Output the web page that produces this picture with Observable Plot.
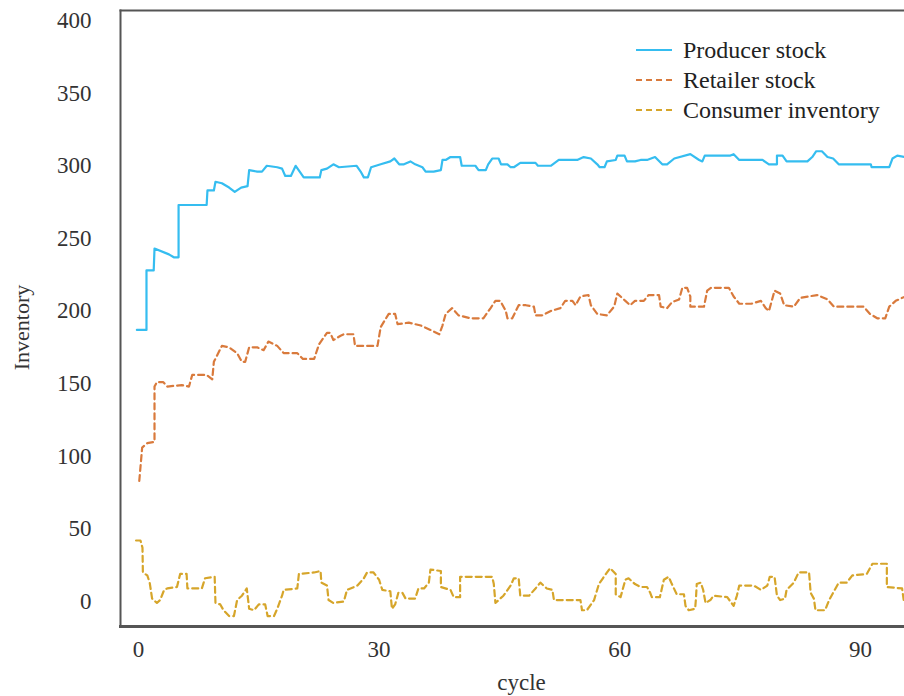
<!DOCTYPE html>
<html>
<head>
<meta charset="utf-8">
<script src="https://cdn.jsdelivr.net/npm/d3@7"></script>
<script src="https://cdn.jsdelivr.net/npm/@observablehq/plot@0.6"></script>
<style>
  html, body { margin: 0; padding: 0; background: #fff; }
  #wrap { position: relative; width: 904px; height: 696px; }
  #legend { position: absolute; left: 636px; top: 35px; font-family: "Liberation Serif", serif; font-size: 24px; color: #222; }
  #legend .row { display: flex; align-items: center; height: 30px; }
  #legend svg { margin-right: 11px; }
</style>
</head>
<body>
<div id="wrap"></div>
<script>
// Series: [cycle, inventory]
const producerStock = [[-0.2,187],[1.0,187],[1.0,228],[1.9,228],[2.0,243],[3.8,239],[4.4,237],[5.0,237],[5.0,273],[6.1,273],[8.5,273],[8.6,283],[9.4,283],[9.6,289],[10.4,288],[11.3,285],[12.0,282],[12.8,285],[13.6,286],[13.8,297],[14.8,296],[15.4,296],[16.0,300],[17.3,299],[17.9,298],[18.3,293],[19.0,293],[19.6,300],[20.1,296],[20.6,292],[22.6,292],[22.8,297],[23.5,298],[24.3,301],[25.0,299],[27.2,300],[27.7,296],[28.1,292],[28.6,292],[29.0,299],[30.2,301],[31.4,303],[31.9,305],[32.5,301],[33.1,301],[33.9,303],[34.5,301],[35.4,299],[35.8,296],[36.8,296],[37.7,297],[37.9,304],[38.3,304],[38.9,306],[40.1,306],[40.3,300],[42.0,300],[42.4,297],[43.3,297],[43.6,301],[44.1,305],[44.9,305],[45.2,301],[46.0,301],[46.4,299],[46.8,299],[47.6,302],[49.5,302],[49.8,300],[51.4,300],[52.4,304],[54.7,304],[55.5,306],[56.4,305],[57.2,301],[57.5,299],[58.1,299],[58.4,303],[59.5,304],[59.7,307],[60.6,307],[60.9,303],[61.9,303],[62.6,304],[63.4,304],[64.4,306],[65.3,301],[65.9,301],[66.8,305],[68.8,308],[69.9,304],[70.3,303],[70.6,307],[73.8,307],[74.2,308],[74.9,304],[77.8,304],[78.6,301],[79.6,301],[79.6,307],[80.3,307],[80.8,303],[83.4,303],[84.0,306],[84.5,310],[85.2,310],[85.9,306],[86.6,305],[87.3,301],[91.3,301],[91.4,299],[93.6,299],[94.0,305],[94.6,307],[95.6,306]];

const retailerStock = [[0.1,83],[0.46,106],[1.1,109],[2.0,110],[2.0,148],[2.3,151],[3.1,151],[3.6,148],[5.4,149],[6.3,148],[6.7,156],[8.5,156],[9.2,153],[9.4,165],[10.4,176],[11.3,175],[12.3,171],[12.9,165],[13.3,165],[13.8,175],[14.8,175],[15.6,173],[16.2,179],[17.3,176],[18.1,171],[19.8,171],[20.5,167],[21.9,167],[22.5,177],[23.5,185],[23.9,185],[24.3,180],[25.2,183],[25.6,184],[26.8,184],[27.0,176],[29.8,176],[30.2,189],[31.2,198],[32.0,198],[32.3,191],[33.7,192],[35.2,190],[36.4,187],[37.5,184],[37.9,190],[38.3,198],[39.1,202],[39.9,197],[41.4,195],[43.0,195],[43.9,202],[44.5,207],[45.1,207],[45.8,200],[46.0,195],[46.6,195],[47.4,204],[48.3,204],[49.3,203],[49.5,197],[50.3,197],[51.4,200],[52.6,202],[53.2,207],[54.1,207],[54.5,204],[55.1,210],[56.1,211],[56.4,204],[57.2,198],[58.4,197],[59.3,203],[59.7,212],[60.7,207],[61.3,204],[61.9,207],[63.0,207],[63.6,211],[64.9,211],[65.1,203],[65.9,202],[66.5,206],[67.4,208],[67.8,216],[68.4,216],[68.8,210],[68.8,203],[70.5,203],[70.9,214],[71.4,216],[73.6,216],[74.2,210],[74.9,205],[76.4,205],[77.6,207],[78.2,202],[78.6,200],[79.3,214],[80.0,212],[80.5,204],[81.7,203],[82.5,209],[84.6,211],[85.9,208],[86.7,203],[90.4,203],[91.2,198],[92.1,195],[93.1,195],[93.6,203],[94.4,207],[95.6,210]];

const consumerInventory = [[-0.3,42],[0.25,42],[0.5,37],[0.55,20],[1.1,18],[1.4,13],[1.7,2],[2.3,-1],[2.7,1],[3.2,8],[3.6,9],[4.8,10],[5.2,19],[6.0,19],[6.1,9],[7.9,9],[8.3,16],[9.5,17],[9.6,-1],[10.2,-2],[10.6,-6],[11.3,-10],[11.9,-10],[12.3,1],[12.9,4],[13.5,9],[13.8,-5],[14.4,-6],[15.0,-2],[15.8,-2],[16.1,-10],[16.9,-10],[17.3,-5],[17.9,4],[18.1,8],[19.8,9],[20.0,19],[21.9,20],[22.7,21],[22.8,13],[23.5,11],[23.7,1],[24.3,-1],[25.6,0],[26.0,8],[27.3,11],[28.1,16],[28.5,20],[29.3,20],[30.0,15],[30.4,8],[31.4,7],[31.6,-5],[32.0,-2],[32.4,6],[32.9,6],[33.3,2],[34.5,2],[34.9,9],[35.6,9],[36.2,13],[36.4,22],[37.7,21],[37.7,10],[38.9,8],[39.3,3],[40.1,3],[40.1,17],[44.1,17],[44.3,12],[44.5,-1],[45.5,4],[46.4,11],[46.8,16],[47.4,16],[47.6,4],[48.7,4],[49.5,9],[50.1,13],[50.9,9],[51.6,8],[51.8,1],[55.1,1],[55.3,-6],[55.9,-6],[56.8,1],[57.4,12],[57.9,16],[58.8,23],[59.5,19],[59.5,5],[60.1,3],[60.7,15],[61.1,16],[61.9,12],[62.6,10],[63.4,10],[63.8,6],[64.0,3],[65.0,3],[65.5,15],[66.1,17],[66.5,12],[67.1,5],[68.0,5],[68.2,-3],[68.6,-6],[69.4,-5],[69.5,2],[69.6,12],[70.1,13],[70.4,8],[70.7,-1],[71.3,1],[71.7,4],[73.4,3],[74.2,-3],[74.6,4],[74.9,11],[76.7,11],[77.6,8],[78.4,11],[78.7,17],[79.3,17],[79.6,4],[80.0,1],[80.6,2],[80.8,8],[81.7,13],[82.3,20],[83.6,20],[83.8,6],[84.2,2],[84.4,-6],[85.6,-6],[86.1,1],[86.6,6],[87.3,13],[88.3,13],[89.0,18],[90.8,19],[91.5,26],[93.3,26],[93.3,10],[95.2,9],[95.4,1]];

const seriesNames = ["Producer stock", "Retailer stock", "Consumer inventory"];
const seriesColors = ["#35bdf0", "#d97a3c", "#d6a52a"];
const seriesDash = [null, "6,4", "6,4"];
const xTicks = [0, 30, 60, 90];
const yTicks = [0, 50, 100, 150, 200, 250, 300, 350, 400];
const xDomain = [-2.24, 95.5];
const yDomain = [-17.2, 406.9];

const font = '"Liberation Serif", "Times New Roman", serif';
const allSeries = [producerStock, retailerStock, consumerInventory];

const chart = Plot.plot({
  width: 904,
  height: 696,
  marginLeft: 120,
  marginRight: 0,
  marginTop: 10,
  marginBottom: 70,
  style: { fontFamily: font, fontSize: "23px", color: "#333", background: "#fff" },
  x: { domain: xDomain },
  y: { domain: yDomain },
  marks: [
    Plot.axisY({ ticks: yTicks, tickSize: 0, tickPadding: 29, label: null, fontSize: 23 }),
    Plot.axisX({ ticks: xTicks, tickSize: 0, tickPadding: 14, label: null, fontSize: 23 }),
    Plot.text(["Inventory"], { frameAnchor: "left", textAnchor: "middle", lineAnchor: "middle", rotate: -90, dx: -99, dy: 9, fontSize: 22, fill: "#333" }),
    Plot.text(["cycle"], { frameAnchor: "bottom", textAnchor: "middle", lineAnchor: "middle", dy: 56, dx: 9, fontSize: 23, fill: "#333" }),
    ...allSeries.map((s, i) => Plot.line(s, {
      x: d => d[0], y: d => d[1],
      stroke: seriesColors[i], strokeWidth: 2.2,
      strokeDasharray: seriesDash[i] ?? undefined,
      clip: true
    })),
    Plot.frame({ anchor: "left", stroke: "#555", strokeWidth: 2 }),
    Plot.frame({ anchor: "bottom", stroke: "#555", strokeWidth: 3 }),
    Plot.frame({ anchor: "top", stroke: "#555", strokeWidth: 2 })
  ]
});

const wrap = document.getElementById("wrap");
wrap.appendChild(chart);

const legend = document.createElement("div");
legend.id = "legend";
seriesNames.forEach((name, i) => {
  const row = document.createElement("div");
  row.className = "row";
  const dash = seriesDash[i] ? `stroke-dasharray="${seriesDash[i]}"` : "";
  row.innerHTML = `<svg width="36" height="10"><line x1="0" y1="5" x2="36" y2="5" stroke="${seriesColors[i]}" stroke-width="2.2" ${dash}/></svg><span>${name}</span>`;
  legend.appendChild(row);
});
wrap.appendChild(legend);
</script>
</body>
</html>
